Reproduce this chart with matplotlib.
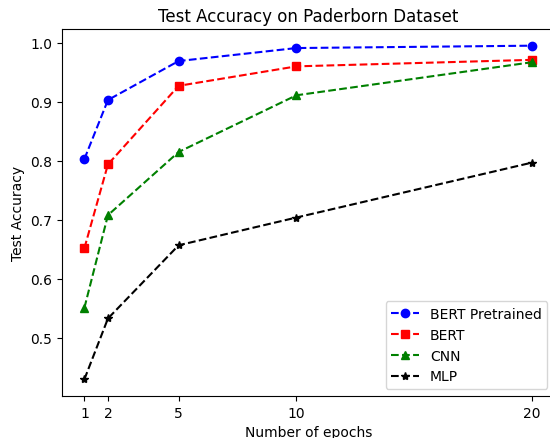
import matplotlib
matplotlib.use("Agg")
import matplotlib.pyplot as plt

epochs = [1, 2, 5, 10, 20]
bert_pretrained = [0.803, 0.903, 0.969, 0.991, 0.995]
bert = [0.652, 0.794, 0.927, 0.960, 0.971]
cnn = [0.551, 0.708, 0.815, 0.911, 0.967]
mlp = [0.430, 0.533, 0.657, 0.704, 0.797]
labels = ["BERT Pretrained", "BERT", "CNN", "MLP"]

fig = plt.figure(figsize=(5.5, 4.39), dpi=100)
ax = fig.add_axes([62 / 550, 42 / 439, 492.4 / 550, 367 / 439])
ax.plot(epochs, bert_pretrained, "b--o", label=labels[0])
ax.plot(epochs, bert, "r--s", label=labels[1])
ax.plot(epochs, cnn, "g--^", label=labels[2])
ax.plot(epochs, mlp, "k--*", label=labels[3])
ax.set_xticks(epochs)
ax.set_title("Test Accuracy on Paderborn Dataset")
ax.set_xlabel("Number of epochs")
ax.set_ylabel("Test Accuracy")
ax.legend(loc="lower right")
fig.savefig("out.png", dpi=100)
